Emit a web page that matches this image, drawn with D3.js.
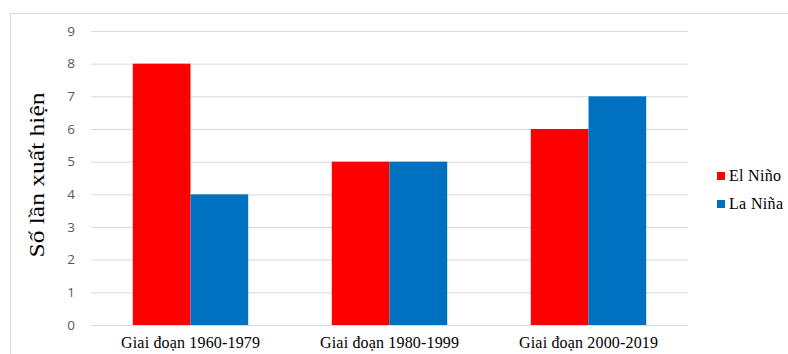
<!DOCTYPE html>
<html>
<head>
<meta charset="utf-8">
<script src="https://cdn.jsdelivr.net/npm/d3@7"></script>
<style>
  html, body { margin: 0; padding: 0; background: #fff; }
  svg { display: block; }
</style>
</head>
<body>
<svg id="chart" width="788" height="354"></svg>
<script>
// Số lần xuất hiện El Niño / La Niña theo giai đoạn
const categories = ["Giai đoạn 1960-1979", "Giai đoạn 1980-1999", "Giai đoạn 2000-2019"];
const seriesNames = ["El Niño", "La Niña"];
const elNino = [8, 5, 6];
const laNina = [4, 5, 7];
const yTicks = [0, 1, 2, 3, 4, 5, 6, 7, 8, 9];
const colors = ["#ff0000", "#0070c0"];

const svg = d3.select("#chart");
const plot = { left: 91, right: 688, top: 31, bottom: 325 };
const serif = "'Liberation Serif', 'Times New Roman', serif";

// outer chart frame
svg.append("rect")
  .attr("x", 10.5).attr("y", 13.5)
  .attr("width", 800).attr("height", 400)
  .attr("fill", "none").attr("stroke", "#d9d9d9").attr("stroke-width", 1);

const x0 = d3.scaleBand().domain(categories)
  .range([plot.left, plot.right]).paddingInner(0.42).paddingOuter(0.21);
const x1 = d3.scaleBand().domain(seriesNames).range([0, x0.bandwidth()]);
const y = d3.scaleLinear().domain([0, 9]).range([plot.bottom, plot.top]);

// gridlines + y tick labels
const yAxis = d3.axisLeft(y).tickValues(yTicks)
  .tickSize(-(plot.right - plot.left)).tickPadding(16).tickFormat(d3.format("d"));
const gy = svg.append("g").attr("transform", `translate(${plot.left},0)`).call(yAxis);
gy.select(".domain").remove();
gy.selectAll(".tick line").attr("stroke", "#d9d9d9").attr("stroke-width", 1);
gy.selectAll(".tick text")
  .attr("fill", "#595959")
  .style("font-family", "'Open Sans', 'Liberation Sans', sans-serif")
  .style("font-size", "13.5px");

// bars
const data = categories.map((c, i) => ({ cat: c, values: [elNino[i], laNina[i]] }));
const groups = svg.append("g").selectAll("g").data(data).join("g")
  .attr("transform", d => `translate(${x0(d.cat)},0)`);
groups.selectAll("rect")
  .data(d => d.values.map((v, j) => ({ name: seriesNames[j], v, j })))
  .join("rect")
  .attr("x", d => x1(d.name))
  .attr("width", x1.bandwidth())
  .attr("y", d => y(d.v))
  .attr("height", d => y(0) - y(d.v))
  .attr("fill", d => colors[d.j]);

// category labels
const xAxis = d3.axisBottom(x0).tickSize(0).tickPadding(12);
const gx = svg.append("g").attr("transform", `translate(0,${plot.bottom})`).call(xAxis);
gx.select(".domain").remove();
gx.selectAll(".tick text")
  .attr("fill", "#000")
  .attr("textLength", 139)
  .style("font-family", serif)
  .style("font-size", "16px");

// y axis title (glyphs widened along the text direction)
svg.append("text")
  .attr("transform", "translate(44,175) rotate(-90) scale(1.16,1)")
  .attr("text-anchor", "middle")
  .style("font-family", serif)
  .style("font-size", "22px")
  .attr("fill", "#000")
  .text("Số lần xuất hiện");

// legend
const legend = svg.append("g").selectAll("g").data(seriesNames).join("g")
  .attr("transform", (d, i) => `translate(717,${172 + i * 28})`);
legend.append("rect").attr("width", 8).attr("height", 8).attr("fill", (d, i) => colors[i]);
legend.append("text")
  .attr("x", 12).attr("y", 8.5)
  .attr("textLength", (d, i) => i === 0 ? 52 : 54)
  .style("font-family", serif)
  .style("font-size", "16px")
  .attr("fill", "#000")
  .text(d => d);
</script>
</body>
</html>
